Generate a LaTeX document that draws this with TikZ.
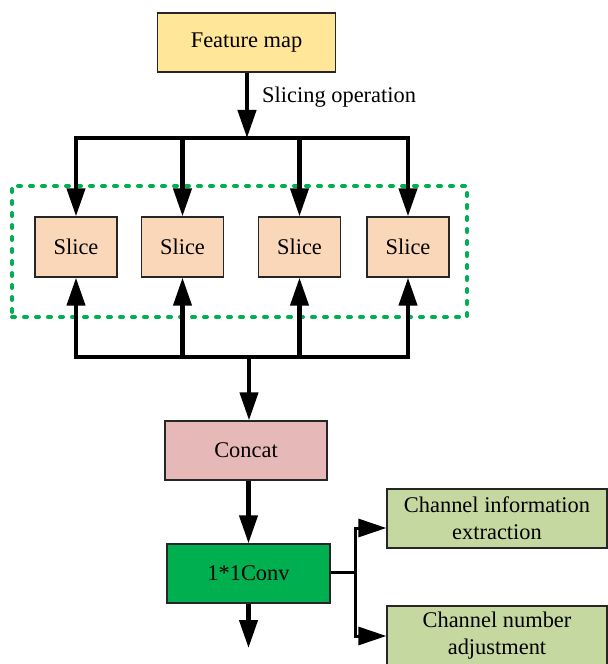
\documentclass[tikz,border=0pt]{standalone}
\usepackage{fontspec}
\setmainfont{Liberation Serif}
\usetikzlibrary{arrows.meta}
\definecolor{fmfill}{RGB}{255,230,153}
\definecolor{slicefill}{RGB}{250,215,185}
\definecolor{concatfill}{RGB}{230,185,184}
\definecolor{convfill}{RGB}{0,176,80}
\definecolor{chanfill}{RGB}{197,216,160}
\definecolor{dashgreen}{RGB}{0,176,80}
\tikzset{
  box/.style={draw=black!85, line width=1.3bp, inner sep=0pt, align=center,
    font=\fontsize{22.5}{27}\selectfont},
  conn/.style={line width=4.2bp, black},
  arr/.style={conn, -{Triangle[length=28bp,width=18bp]}},
  thinarr/.style={line width=3bp, black, -{Triangle[length=28bp,width=18bp]}},
  frame/.style={draw=dashgreen, line width=4bp, dash pattern=on 3bp off 9bp, line cap=round}
}
\begin{document}
\begin{tikzpicture}[x=1bp,y=-1bp]
\useasboundingbox[fill=white] (0,0) rectangle (608,664);
% dashed frame
\node[frame, minimum width=455bp, minimum height=131bp, inner sep=0pt] (grp) at (239.5,251.5) {};
% nodes
\node[box, fill=fmfill, minimum width=178bp, minimum height=59bp] (fm) at (246.5,42.5) {Feature map};
\node[box, fill=slicefill, minimum width=82bp, minimum height=60bp] (s1) at (76,247) {Slice};
\node[box, fill=slicefill, minimum width=82bp, minimum height=60bp] (s2) at (182.5,247) {Slice};
\node[box, fill=slicefill, minimum width=82bp, minimum height=60bp] (s3) at (299.5,247) {Slice};
\node[box, fill=slicefill, minimum width=82bp, minimum height=60bp] (s4) at (408,247) {Slice};
\node[box, fill=concatfill, minimum width=162bp, minimum height=59bp] (cc) at (246,450.5) {Concat};
\node[box, fill=convfill, minimum width=163bp, minimum height=59bp] (cv) at (248.5,573.5) {1*1Conv};
\node[box, fill=chanfill, minimum width=220bp, minimum height=59bp] (ci) at (497,518.5) {Channel information\\extraction};
\node[box, fill=chanfill, minimum width=220bp, minimum height=60bp] (cn) at (497,636) {Channel number\\adjustment};
\node[anchor=west, inner sep=0pt, font=\fontsize{22.5}{27}\selectfont] (lab) at (262,97) {Slicing operation};
% coordinates
\coordinate (tb) at (247,138);
\coordinate (bb) at (249,357);
\coordinate (br) at (355,572);
\coordinate (out) at (248.5,648);
% top distribution
\draw[arr] (fm.south -| tb) -- (tb);
\draw[conn, line cap=rect] (s1.north |- tb) -- (s4.north |- tb);
\foreach \s in {s1,s2,s3,s4} \draw[arr] (\s.north |- tb) -- (\s.north);
% bottom gathering
\draw[conn, line cap=rect] (s1.south |- bb) -- (s4.south |- bb);
\foreach \s in {s1,s2,s3,s4} \draw[arr] (\s.south |- bb) -- (\s.south);
\draw[arr] (bb) -- (cc.north -| bb);
% concat to conv
\draw[arr] (cc.south -| cv) -- (cv.north);
\draw[arr] (cv.south) -- (out);
% branches
\draw[line width=3bp] (cv.east |- br) -- (br);
\draw[thinarr] (br) -- (br |- 0,528) -- (ci.west |- 0,528);
\draw[thinarr] (br) -- (br |- 0,636) -- (cn.west |- 0,636);
\end{tikzpicture}
\end{document}
